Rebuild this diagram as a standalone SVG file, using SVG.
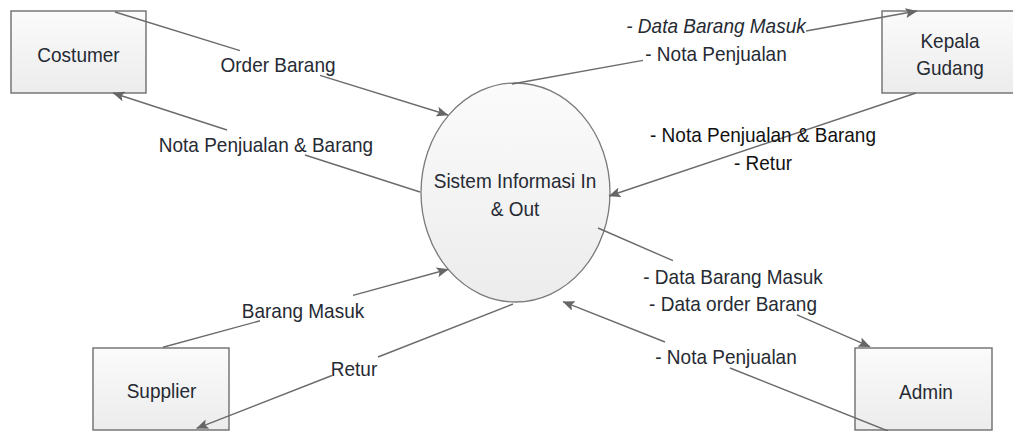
<svg xmlns="http://www.w3.org/2000/svg" width="1013" height="431" viewBox="0 0 1013 431">
<style>
.box{stroke:#6e6e6e;stroke-width:1.4;fill:url(#g)}
.proc{stroke:#7a7a7a;stroke-width:1.3;fill:url(#g)}
.t{font-family:"Liberation Sans",Arial,sans-serif;font-size:19px;fill:#262a33;text-anchor:middle}
.dk{fill:#111}
.it{font-style:italic}
.c{fill:none;stroke:#6b6b6b;stroke-width:1.4;marker-end:url(#arr)}
</style>
<defs>
<linearGradient id="g" x1="0" y1="0" x2="0" y2="1">
<stop offset="0" stop-color="#fbfbfb"/>
<stop offset="1" stop-color="#ececec"/>
</linearGradient>
<marker id="arr" markerUnits="userSpaceOnUse" viewBox="0 0 12 10" refX="11.5" refY="5" markerWidth="12" markerHeight="10" orient="auto">
<path d="M0,0 L12,5 L0,10 L2.5,5 z" fill="#666"/>
</marker>
</defs>
<g id="costumer">
<rect class="box" x="11" y="11" width="135" height="82"/>
<text class="t" transform="translate(78.5,61.5) scale(1,1.1)">Costumer</text>
</g>
<g id="kepala-gudang">
<rect class="box" x="882" y="11" width="136" height="82"/>
<text class="t" transform="translate(950,48) scale(1,1.1)">Kepala</text>
<text class="t" transform="translate(950,75) scale(1,1.1)">Gudang</text>
</g>
<g id="supplier">
<rect class="box" x="93" y="348" width="136" height="82"/>
<text class="t" transform="translate(161.5,398) scale(1,1.1)">Supplier</text>
</g>
<g id="admin">
<rect class="box" x="855" y="348" width="137" height="82"/>
<text class="t" transform="translate(926,399) scale(1,1.1)">Admin</text>
</g>
<g id="sistem">
<ellipse class="proc" cx="515.5" cy="192.5" rx="94.5" ry="109.5"/>
<text class="t" transform="translate(515,188) scale(1,1.1)">Sistem Informasi In</text>
<text class="t" transform="translate(515,215.5) scale(1,1.1)">&amp; Out</text>
</g>
<g id="connectors">
<path class="c" d="M115,12 L240,50.6 M320,75.4 L448,115"/>
<path class="c" d="M420,192 L305,155 M227,130 L113,93"/>
<path class="c" d="M512,84 L643,60.4 M806,31 L917,11"/>
<path class="c" d="M916,93 L609,196"/>
<path class="c" d="M598,228 L673,260.7 M797,314.8 L870,346.7"/>
<path class="c" d="M888,431 L730,368 M665,342 L563,301.7"/>
<path class="c" d="M163,347.3 L260,320.8 M353,295.4 L448.3,269.3"/>
<path class="c" d="M513,304 L378,357 M332,375.5 L196.7,428.3"/>
</g>
<g id="labels">
<text class="t" transform="translate(278,72) scale(1,1.1)">Order Barang</text>
<text class="t" transform="translate(266,152) scale(1,1.1)">Nota Penjualan &amp; Barang</text>
<text class="t it" transform="translate(716,33) scale(1,1.1)">- Data Barang Masuk</text>
<text class="t" transform="translate(716,61) scale(1,1.1)">- Nota Penjualan</text>
<text class="t dk" transform="translate(763,142) scale(1,1.1)">- Nota Penjualan &amp; Barang</text>
<text class="t dk" transform="translate(763,170) scale(1,1.1)">- Retur</text>
<text class="t" transform="translate(733,284) scale(1,1.1)">- Data Barang Masuk</text>
<text class="t" transform="translate(733,311) scale(1,1.1)">- Data order Barang</text>
<text class="t" transform="translate(726,364) scale(1,1.1)">- Nota Penjualan</text>
<text class="t" transform="translate(303,318) scale(1,1.1)">Barang Masuk</text>
<text class="t" transform="translate(354,375.5) scale(1,1.1)">Retur</text>
</g>
</svg>
